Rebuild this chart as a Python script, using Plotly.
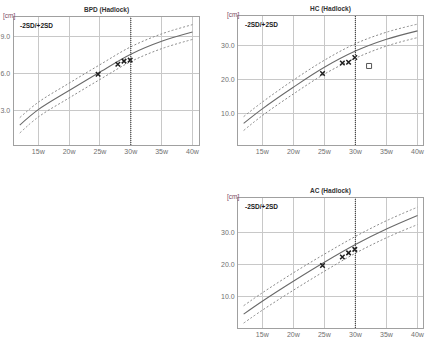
import plotly.graph_objects as go

# Hadlock reference curves (gestational week -> cm)
weeks = [12, 15, 20, 25, 30, 35, 40]

bpd_mean = [1.8, 3.05, 4.6, 6.1, 7.55, 8.6, 9.35]
bpd_hi = [2.4, 3.65, 5.2, 6.7, 8.15, 9.2, 9.95]
bpd_lo = [1.15, 2.45, 4.0, 5.5, 6.95, 8.0, 8.75]

hc_mean = [7.0, 11.3, 17.7, 23.6, 28.4, 31.9, 34.4]
hc_hi = [9.0, 13.3, 19.8, 25.7, 30.6, 34.0, 36.4]
hc_lo = [4.9, 9.3, 15.7, 21.6, 26.3, 29.9, 32.4]

ac_mean = [4.6, 8.6, 14.8, 20.7, 26.2, 31.0, 35.2]
ac_hi = [7.2, 11.2, 17.4, 23.2, 28.7, 33.6, 37.8]
ac_lo = [1.8, 5.8, 12.0, 17.9, 23.5, 28.3, 32.4]

# Measurements (exam weeks -> cm)
exam_weeks = [24.7, 27.9, 28.9, 29.9]
bpd_meas = [5.92, 6.73, 6.99, 7.07]
hc_meas = [21.8, 24.9, 25.1, 26.5]
ac_meas = [19.7, 22.3, 23.6, 24.7]

# Extra (open square) HC point
hc_extra_week = [32.2]
hc_extra_val = [24.0]

current_week = 30

x_ticks = [15, 20, 25, 30, 35, 40]
x_labels = [f"{w}w" for w in x_ticks]

FONT = "Liberation Sans"
GRID = "#c8c8c8"
FRAME = "#a0a0a0"
TICK_COL = "#707070"

panels = [
    dict(name="BPD (Hadlock)", mean=bpd_mean, hi=bpd_hi, lo=bpd_lo, meas=bpd_meas,
         xd=[12.7 / 436, 199 / 436], yd=[1 - 145 / 348, 1 - 17 / 348],
         xr=[11.0, 41.0], yr=[0.18, 10.57], yt=[3, 6, 9]),
    dict(name="HC (Hadlock)", mean=hc_mean, hi=hc_hi, lo=hc_lo, meas=hc_meas,
         xd=[238.7 / 436, 424.7 / 436], yd=[1 - 145 / 348, 1 - 16 / 348],
         xr=[11.1, 40.85], yr=[0.6, 38.8], yt=[10, 20, 30]),
    dict(name="AC (Hadlock)", mean=ac_mean, hi=ac_hi, lo=ac_lo, meas=ac_meas,
         xd=[238.7 / 436, 424.7 / 436], yd=[1 - 328 / 348, 1 - 198 / 348],
         xr=[11.1, 40.85], yr=[0.28, 40.65], yt=[10, 20, 30]),
]

fig = go.Figure()
layout = dict(
    width=436, height=348,
    margin=dict(l=0, r=0, t=0, b=0),
    paper_bgcolor="white", plot_bgcolor="white",
    showlegend=False,
    font=dict(family=FONT, size=7, color=TICK_COL),
)
annotations = []
shapes = []

for i, p in enumerate(panels):
    n = "" if i == 0 else str(i + 1)
    xa, ya = "x" + n, "y" + n
    for vals, dash, col, wd in [(p["hi"], "2px,2px", "#8a8a8a", 1),
                                (p["lo"], "2px,2px", "#8a8a8a", 1),
                                (p["mean"], "solid", "#6a6a6a", 1.1)]:
        fig.add_trace(go.Scatter(x=weeks, y=vals, mode="lines", xaxis=xa, yaxis=ya,
                                 line=dict(color=col, width=wd, dash=dash, shape="spline")))
    fig.add_trace(go.Scatter(x=exam_weeks, y=p["meas"], mode="markers", xaxis=xa, yaxis=ya,
                             marker=dict(symbol="x-thin", size=4.5, color="#1e1e1e",
                                         line=dict(width=1.5, color="#1e1e1e"))))
    if i == 1:
        fig.add_trace(go.Scatter(x=hc_extra_week, y=hc_extra_val, mode="markers",
                                 xaxis=xa, yaxis=ya,
                                 marker=dict(symbol="square-open", size=5, color="#555555",
                                             line=dict(width=1))))
    layout["xaxis" + n] = dict(
        domain=p["xd"], range=p["xr"], anchor=ya, tickvals=x_ticks, ticktext=x_labels,
        showgrid=True, gridcolor=GRID, gridwidth=1.3, zeroline=False,
        showline=True, mirror=True, linecolor=FRAME, linewidth=1, ticks="",
        tickfont=dict(size=7, color=TICK_COL, family=FONT),
    )
    layout["yaxis" + n] = dict(
        domain=p["yd"], range=p["yr"], anchor=xa, tickvals=p["yt"], tickformat=".1f",
        showgrid=True, gridcolor=GRID, gridwidth=1.3, zeroline=False,
        showline=True, mirror=True, linecolor=FRAME, linewidth=1, ticks="",
        ticklabelstandoff=1,
        tickfont=dict(size=7, color=TICK_COL, family=FONT),
    )
    shapes.append(dict(type="line", xref=xa, yref=ya + " domain", x0=current_week,
                       x1=current_week, y0=0, y1=1,
                       line=dict(color="#4a4a4a", width=1.2, dash="1px,1px")))
    xmid = (p["xd"][0] + p["xd"][1]) / 2
    annotations.append(dict(text="<b>" + p["name"] + "</b>", xref="paper", yref="paper",
                            x=xmid, y=p["yd"][1] + 0.002, xanchor="center", yanchor="bottom",
                            showarrow=False, font=dict(size=6.5, color="#333333", family=FONT)))
    cm_x = max(p["xd"][0] - 12.8 / 436, 0.0)
    annotations.append(dict(text="[cm]", xref="paper", yref="paper",
                            x=cm_x, y=p["yd"][1] + 0.004,
                            xanchor="left", yanchor="middle", showarrow=False,
                            font=dict(size=6.5, color="#7b4a63", family=FONT)))
    annotations.append(dict(text="<b>-2SD/+2SD</b>", xref=xa + " domain", yref=ya + " domain",
                            x=0.025, y=0.98, xanchor="left", yanchor="top", showarrow=False,
                            font=dict(size=6.5, color="#1a1a1a", family=FONT)))

layout["annotations"] = annotations
layout["shapes"] = shapes
fig.update_layout(**layout)
fig.write_html("out.html")
